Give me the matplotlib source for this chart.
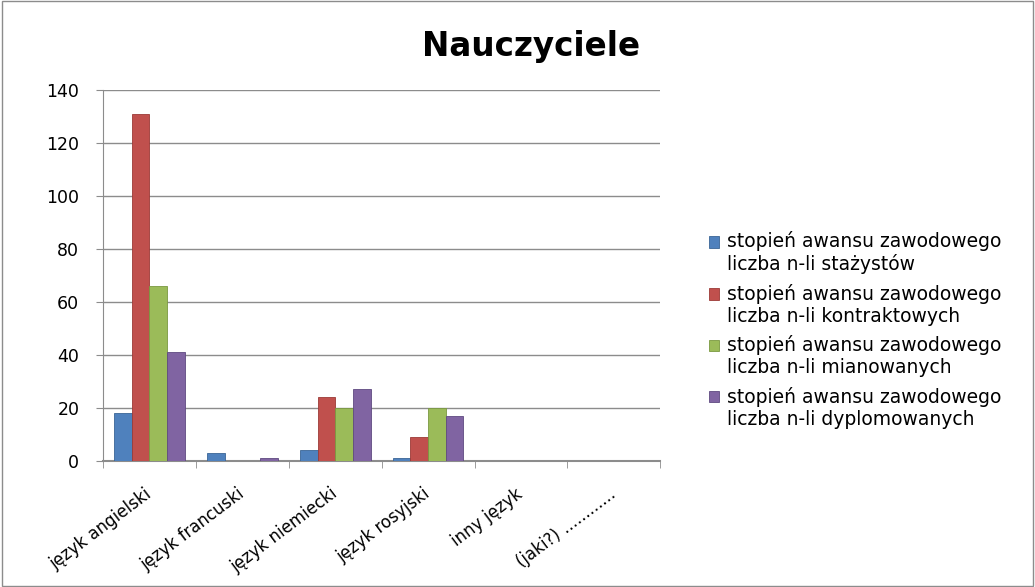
import numpy as np
import matplotlib.pyplot as plt
import matplotlib.transforms as mtransforms
from matplotlib.patches import Rectangle
from matplotlib.container import BarContainer
from matplotlib.legend_handler import HandlerPatch

plt.rcParams['font.family'] = ['DejaVu Sans']

# Categories and series
categories = ["język angielski", "język francuski", "język niemiecki",
              "język rosyjski", "inny język", "(jaki?) ............"]
stazysci = [18, 3, 4, 1, 0, 0]
kontraktowi = [131, 0, 24, 9, 0, 0]
mianowani = [66, 0, 20, 20, 0, 0]
dyplomowani = [41, 1, 27, 17, 0, 0]

series_labels = [
    "stopień awansu zawodowego\nliczba n-li stażystów",
    "stopień awansu zawodowego\nliczba n-li kontraktowych",
    "stopień awansu zawodowego\nliczba n-li mianowanych",
    "stopień awansu zawodowego\nliczba n-li dyplomowanych",
]
colors = ["#4F81BD", "#C0504D", "#9BBB59", "#8064A2"]
edges = ["#3A6596", "#9C3A37", "#7A9940", "#5F4A80"]

fig = plt.figure(figsize=(10.35, 5.87), dpi=100)
ax = fig.add_axes([0.0995, 0.2147, 0.5385, 0.632])

x = np.arange(len(categories))
w = 0.19
all_series = [stazysci, kontraktowi, mianowani, dyplomowani]
for i, vals in enumerate(all_series):
    ax.bar(x + (i - 1.5) * w, vals, width=w, color=colors[i],
           edgecolor=edges[i], linewidth=0.6, label=series_labels[i], zorder=3)

ax.set_xlim(-0.5, len(categories) - 0.5)
ax.set_ylim(0, 140)
ax.set_yticks(range(0, 141, 20))
ax.yaxis.grid(True, color="#8c8c8c", linewidth=1.0, zorder=0)
ax.set_axisbelow(True)

ax.set_xticks(x)
ax.set_xticklabels(categories, rotation=37, ha="right", rotation_mode="anchor",
                   fontsize=12)
ax.tick_params(axis="x", which="major", length=0, pad=17)
shift = mtransforms.ScaledTranslation(-4 / 72, 0, fig.dpi_scale_trans)
for lbl in ax.get_xticklabels():
    lbl.set_transform(lbl.get_transform() + shift)
ax.set_xticks(np.arange(-0.5, len(categories)), minor=True)
ax.tick_params(axis="x", which="minor", length=5, color="#8c8c8c", direction="out")
ax.tick_params(axis="y", length=5, color="#8c8c8c", labelsize=12.5, pad=12)

for s in ["top", "right"]:
    ax.spines[s].set_visible(False)
ax.spines["left"].set_color("#8c8c8c")
ax.spines["bottom"].set_color("#8c8c8c")
ax.spines["bottom"].set_linewidth(1.5)

fig.text(0.513, 0.92, "Nauczyciele", ha="center", va="center",
         fontsize=23.5, fontweight="bold")


def top_square(legend, orig_handle, xdescent, ydescent, width, height, fontsize):
    return Rectangle((-xdescent, -ydescent + 0.62 * fontsize), width, height)


def first_child(tgt, src):
    tgt.update_from(src.patches[0])


fig.legend(loc="center left", bbox_to_anchor=(0.685, 0.438), frameon=False,
           fontsize=13.5, handlelength=0.55, handleheight=0.55, handletextpad=0.4,
           labelspacing=0.5, borderpad=0, borderaxespad=0,
           handler_map={BarContainer: HandlerPatch(patch_func=top_square,
                                                   update_func=first_child)})

fig.patches.append(Rectangle((0.002, 0.002), 0.996, 0.996, transform=fig.transFigure,
                             fill=False, edgecolor="#8c8c8c", linewidth=1))

plt.savefig("out.png", dpi=100)
